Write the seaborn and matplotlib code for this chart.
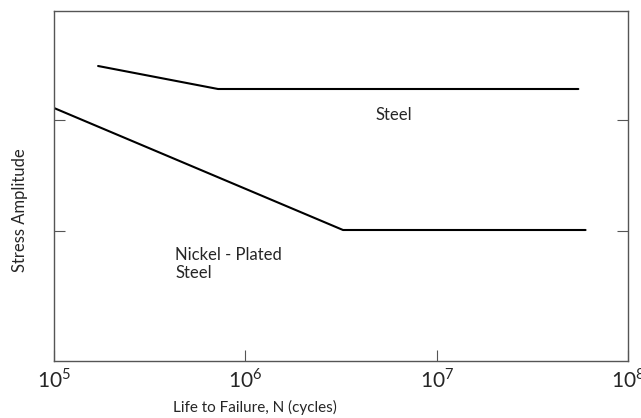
import numpy as np
import pandas as pd
import matplotlib
matplotlib.use("Agg")
import matplotlib.pyplot as plt
import seaborn as sns

# S-N curves (stress amplitude in arbitrary units)
steel_cycles = [1.7e5, 7.2e5, 5.5e7]
steel_stress = [295, 272, 272]
nickel_cycles = [1.0e5, 3.24e6, 6.0e7]
nickel_stress = [253, 131, 131]

x_ticks = [1e5, 1e6, 1e7, 1e8]
x_tick_labels = [r"$10^5$", r"$10^6$", r"$10^7$", r"$10^8$"]
y_ticks = [130, 241]

sns.set_style("ticks")
plt.rcParams["font.family"] = ["Lato", "DejaVu Sans"]
plt.rcParams["mathtext.fontset"] = "custom"
plt.rcParams["mathtext.rm"] = "Lato"

fig = plt.figure(figsize=(6.41, 4.18), dpi=100)
ax = fig.add_axes([54 / 641, (418 - 361) / 418, 574 / 641, 350 / 418])

steel = pd.DataFrame({"N": steel_cycles, "S": steel_stress})
nickel = pd.DataFrame({"N": nickel_cycles, "S": nickel_stress})
sns.lineplot(data=steel, x="N", y="S", ax=ax, color="black", lw=1.5, sort=False)
sns.lineplot(data=nickel, x="N", y="S", ax=ax, color="black", lw=1.5, sort=False)

ax.set_xscale("log")
ax.set_xlim(1e5, 1e8)
ax.set_ylim(0, 350)
ax.set_xticks(x_ticks)
ax.set_xticklabels(x_tick_labels, fontsize=15)
ax.xaxis.set_minor_locator(matplotlib.ticker.NullLocator())
ax.set_yticks(y_ticks)
ax.set_yticklabels([])
ax.tick_params(axis="x", direction="in", length=8, width=0.8, color="#555555", pad=5)
ax.tick_params(axis="y", direction="in", length=8, width=0.8, color="#555555",
               left=True, right=True)

for s in ax.spines.values():
    s.set_color("#555555")
    s.set_linewidth(1.0)

ax.set_xlabel("Life to Failure, N (cycles)", fontsize=11)
ax.xaxis.set_label_coords(0.35, -0.11)
ax.set_ylabel("Stress Amplitude", fontsize=12)
ax.yaxis.set_label_coords(-0.045, 0.43)

ax.text(6.0e6, 246, "Steel", fontsize=12, ha="center", va="center")
ax.text(4.3e5, 97, "Nickel - Plated\nSteel", fontsize=12, ha="left", va="center",
        linespacing=1.1)

fig.savefig("out.png", dpi=100)
